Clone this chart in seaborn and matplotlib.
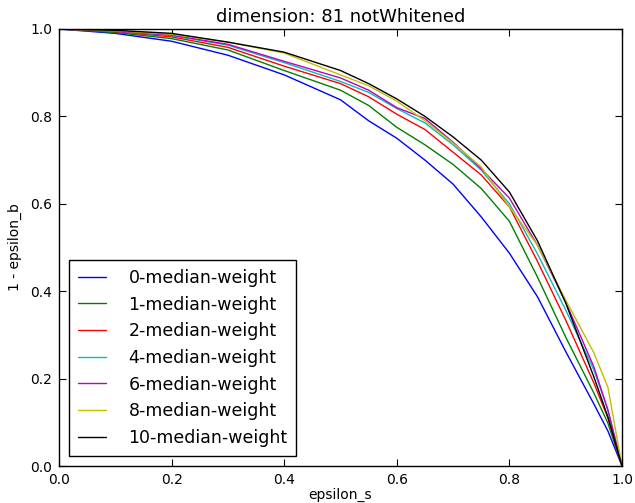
import matplotlib
matplotlib.use("Agg")
import matplotlib.pyplot as plt
import seaborn as sns
import pandas as pd

sns.set_style("ticks")
plt.rcParams['font.family'] = ['DejaVu Sans']
plt.rcParams['text.color'] = 'black'
plt.rcParams['axes.labelcolor'] = 'black'
plt.rcParams['xtick.color'] = 'black'
plt.rcParams['ytick.color'] = 'black'

x_vals = [0.0, 0.1, 0.2, 0.3, 0.4, 0.5, 0.55, 0.6, 0.65, 0.7, 0.75, 0.8, 0.85, 0.9, 0.95, 0.975, 1.0]

w0 = [1.0, 0.990, 0.972, 0.940, 0.895, 0.838, 0.790, 0.750, 0.700, 0.645, 0.570, 0.487, 0.387, 0.262, 0.142, 0.080, 0.0]
w1 = [1.0, 0.992, 0.978, 0.952, 0.905, 0.860, 0.825, 0.775, 0.735, 0.690, 0.635, 0.560, 0.432, 0.295, 0.167, 0.098, 0.0]
w2 = [1.0, 0.994, 0.982, 0.958, 0.915, 0.875, 0.845, 0.805, 0.770, 0.718, 0.666, 0.593, 0.468, 0.334, 0.190, 0.110, 0.0]
w4 = [1.0, 0.995, 0.985, 0.963, 0.923, 0.880, 0.855, 0.818, 0.785, 0.735, 0.677, 0.600, 0.485, 0.357, 0.220, 0.128, 0.0]
w6 = [1.0, 0.995, 0.986, 0.965, 0.926, 0.888, 0.860, 0.820, 0.795, 0.741, 0.680, 0.613, 0.505, 0.375, 0.227, 0.128, 0.0]
w8 = [1.0, 0.996, 0.988, 0.970, 0.945, 0.895, 0.870, 0.835, 0.790, 0.739, 0.684, 0.593, 0.505, 0.380, 0.259, 0.180, 0.0]
w10 = [1.0, 0.997, 0.990, 0.970, 0.947, 0.905, 0.875, 0.840, 0.800, 0.753, 0.700, 0.627, 0.515, 0.373, 0.204, 0.112, 0.0]

series_names = ["0-median-weight", "1-median-weight", "2-median-weight", "4-median-weight",
                "6-median-weight", "8-median-weight", "10-median-weight"]
series_vals = [w0, w1, w2, w4, w6, w8, w10]
colors = ["#0000ff", "#008000", "#ff0000", "#00bfbf", "#bf00bf", "#bfbf00", "#000000"]

rows = []
for name, vals in zip(series_names, series_vals):
    for xv, yv in zip(x_vals, vals):
        rows.append({"epsilon_s": xv, "y": yv, "series": name})
df = pd.DataFrame(rows)

fig = plt.figure(figsize=(6.35, 5.03), dpi=100)
fig.patch.set_facecolor("white")
ax = fig.add_axes([59/635, 37/503, 563/635, 437/503])

sns.lineplot(data=df, x="epsilon_s", y="y", hue="series", hue_order=series_names,
             palette=dict(zip(series_names, colors)), estimator=None, sort=False,
             linewidth=1.0, ax=ax)

ax.set_xlim(0, 1)
ax.set_ylim(0, 1)
ax.set_xticks([0, 0.2, 0.4, 0.6, 0.8, 1.0])
ax.set_yticks([0, 0.2, 0.4, 0.6, 0.8, 1.0])
ax.set_xticklabels(["0.0", "0.2", "0.4", "0.6", "0.8", "1.0"])
ax.set_yticklabels(["0.0", "0.2", "0.4", "0.6", "0.8", "1.0"])
ax.tick_params(direction="in", top=True, right=True, length=5, width=0.8, labelsize=10, pad=5)
for s in ax.spines.values():
    s.set_visible(True)
    s.set_linewidth(1.0)
    s.set_color("black")
ax.set_xlabel("epsilon_s", fontsize=10, labelpad=1)
ax.set_ylabel("1 - epsilon_b", fontsize=10, labelpad=6)
ax.set_title("dimension: 81 notWhitened", fontsize=13, pad=5)

leg = ax.legend(loc="lower left", fontsize=12.5, frameon=True, fancybox=False,
                handlelength=1.6, borderaxespad=0.6, labelspacing=0.5, handletextpad=1.3,
                borderpad=0.5)
leg.get_frame().set_edgecolor("black")
leg.get_frame().set_linewidth(1.0)
leg.get_frame().set_alpha(1.0)

fig.savefig("out.png", dpi=100, facecolor="white")
